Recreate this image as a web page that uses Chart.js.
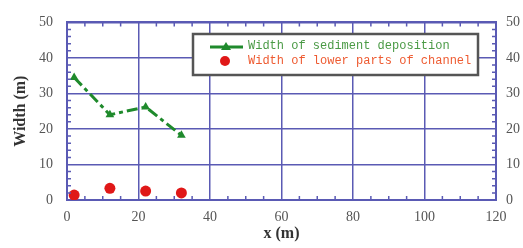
<!DOCTYPE html>
<html>
<head>
<meta charset="utf-8">
<script src="https://cdn.jsdelivr.net/npm/chart.js@4"></script>
<style>
  html, body { margin: 0; padding: 0; background: #fff; }
  #wrap { width: 523px; height: 248px; }
</style>
</head>
<body>
<div id="wrap"><canvas id="myChart" width="523" height="248"></canvas></div>
<script>
// values
const sedX = [2, 12, 22, 32];
const sedY = [34.5, 24, 26.2, 18.2];
const lowX = [2, 12, 22, 32];
const lowY = [1.4, 3.3, 2.5, 2];

const sedLabel = 'Width of sediment deposition';
const lowLabel = 'Width of lower parts of channel';

const blue = '#5a5ab4';
const green = '#1f8a2c';
const red = '#e01818';

function pts(xs, ys) {
  return xs.map((x, i) => ({ x: x, y: ys[i] }));
}

// short inner ticks + legend box
const extras = {
  id: 'extras',
  afterDraw(chart) {
    const c = chart.ctx;
    const a = chart.chartArea;
    const sx = chart.scales.x, sy = chart.scales.y;
    c.save();
    c.strokeStyle = blue;
    c.lineWidth = 1.5;
    c.beginPath();
    for (let v = 5; v < 120; v += 5) {
      if (v % 20 === 0) continue;
      const px = sx.getPixelForValue(v);
      c.moveTo(px, a.bottom); c.lineTo(px, a.bottom - 4);
      c.moveTo(px, a.top); c.lineTo(px, a.top + 4);
    }
    for (let v = 2; v < 50; v += 2) {
      if (v % 10 === 0) continue;
      const py = sy.getPixelForValue(v);
      c.moveTo(a.left, py); c.lineTo(a.left + 4, py);
      c.moveTo(a.right, py); c.lineTo(a.right - 4, py);
    }
    c.stroke();

    // legend box
    const bx = 193, by = 34, bw = 285, bh = 41;
    c.fillStyle = '#fff';
    c.fillRect(bx, by, bw, bh);
    c.strokeStyle = '#555';
    c.lineWidth = 2.5;
    c.strokeRect(bx, by, bw, bh);

    c.strokeStyle = green;
    c.lineWidth = 3;
    c.beginPath();
    c.moveTo(210, 47); c.lineTo(243, 47);
    c.stroke();
    c.fillStyle = green;
    c.beginPath();
    c.moveTo(226, 42); c.lineTo(231, 50); c.lineTo(221, 50); c.closePath();
    c.fill();

    c.fillStyle = red;
    c.beginPath();
    c.arc(225, 61, 5, 0, Math.PI * 2);
    c.fill();

    c.font = '12px "Liberation Mono", monospace';
    c.textBaseline = 'middle';
    c.fillStyle = '#4a9a45';
    c.fillText(sedLabel, 248, 46);
    c.fillStyle = '#ee5a30';
    c.fillText(lowLabel, 248, 61);
    c.restore();
  }
};

const tickFont = { family: '"Liberation Serif", serif', size: 14 };

const chart = new Chart(document.getElementById('myChart'), {
  type: 'scatter',
  data: {
    datasets: [
      {
        label: sedLabel,
        data: pts(sedX, sedY),
        showLine: true,
        borderColor: green,
        backgroundColor: green,
        borderWidth: 3,
        borderDash: [11, 4, 4, 4],
        pointStyle: 'triangle',
        pointRadius: 5,
        pointBorderWidth: 0
      },
      {
        label: lowLabel,
        data: pts(lowX, lowY),
        showLine: false,
        backgroundColor: red,
        borderColor: red,
        pointRadius: 5.5,
        pointBorderWidth: 0
      }
    ]
  },
  options: {
    responsive: false,
    animation: false,
    layout: { padding: { top: 19, right: 0, bottom: 0, left: 0 } },
    plugins: {
      legend: { display: false },
      tooltip: { enabled: false }
    },
    scales: {
      x: {
        type: 'linear',
        min: 0, max: 120,
        ticks: { stepSize: 20, color: '#555', font: tickFont, padding: 9 },
        grid: { color: blue, lineWidth: 1.5, drawTicks: false },
        border: { color: blue, width: 2 },
        title: {
          display: true, text: 'x (m)', color: '#333', padding: { top: 0, bottom: 5 },
          font: { family: '"Liberation Serif", serif', size: 16, weight: 'bold' }
        },
        afterFit(s) { s.height = 48; }
      },
      y: {
        type: 'linear',
        position: 'left',
        min: 0, max: 50,
        ticks: { stepSize: 10, color: '#555', font: tickFont, padding: 14 },
        grid: { color: blue, lineWidth: 1.5, drawTicks: false },
        border: { color: blue, width: 2 },
        title: {
          display: true, text: 'Width (m)', color: '#333', padding: { top: 11, bottom: 0 },
          font: { family: '"Liberation Serif", serif', size: 16, weight: 'bold' }
        },
        afterFit(s) { s.width = 67; }
      },
      y2: {
        type: 'linear',
        position: 'right',
        min: 0, max: 50,
        ticks: { stepSize: 10, color: '#555', font: tickFont, padding: 10 },
        grid: { display: false, drawTicks: false },
        border: { color: blue, width: 2 },
        afterFit(s) { s.width = 27; }
      },
      x2: {
        type: 'linear',
        position: 'top',
        min: 0, max: 120,
        ticks: { display: false },
        grid: { display: false, drawTicks: false },
        border: { color: blue, width: 2 },
        afterFit(s) { s.height = 0; }
      }
    }
  },
  plugins: [extras]
});
</script>
</body>
</html>
